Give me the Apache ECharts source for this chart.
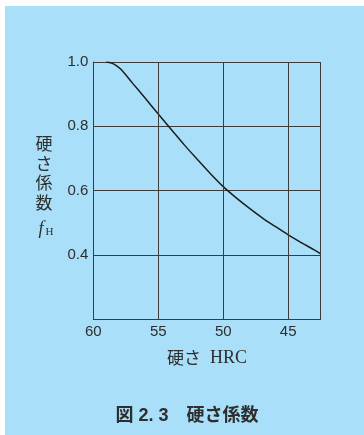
<!DOCTYPE html>
<html>
<head>
<meta charset="utf-8">
<script src="https://cdn.jsdelivr.net/npm/echarts@6/dist/echarts.min.js"></script>
<style>
  html, body { margin: 0; padding: 0; background: #ffffff; }
  #chart { width: 364px; height: 435px; }
</style>
</head>
<body>
<div id="chart"></div>
<script>
// Hardness HRC (x) and hardness factor f_H (y) along the curve
const hrc    = [59.0, 58.6, 58.2, 57.8, 57.0, 56.0, 55.0, 54.0, 53.0, 52.0, 51.0, 50.0, 49.0, 48.0, 47.0, 46.0, 45.0, 44.0, 43.0, 42.5];
const factor = [1.000, 0.997, 0.988, 0.974, 0.935, 0.887, 0.838, 0.790, 0.742, 0.697, 0.653, 0.612, 0.577, 0.545, 0.515, 0.488, 0.462, 0.438, 0.415, 0.403];

// Labelled ticks on each axis
const xTicks = [60, 55, 50, 45];
const yTicks = [1.0, 0.8, 0.6, 0.4];

const ink = '#2e2e2e';
const gridInk = '#3c3c3c';
const sky = '#a9dff8';

const chart = echarts.init(document.getElementById('chart'), null, { renderer: 'canvas' });

const curve = hrc.map((h, i) => [h, factor[i]]);

// Vertical grid lines at labelled HRC values plus the right frame edge
const vLines = xTicks.filter(v => v !== 60).map(v => ({ xAxis: v }));
vLines.push({ xAxis: 42.5 });

chart.setOption({
  animation: false,
  backgroundColor: '#ffffff',
  graphic: [
    {
      type: 'rect', z: -10, silent: true,
      shape: { x: 5, y: 6, width: 359, height: 429 },
      style: { fill: sky }
    },
    {
      type: 'text', silent: true,
      style: {
        text: '硬\nさ\n係\n数',
        x: 44, y: 134,
        textAlign: 'center', textVerticalAlign: 'top',
        font: '17px "Noto Sans CJK JP"',
        lineHeight: 19.5,
        fill: ink
      }
    },
    {
      type: 'text', silent: true,
      style: {
        text: 'f',
        x: 41, y: 229,
        textAlign: 'center', textVerticalAlign: 'middle',
        font: 'italic 18px "Liberation Serif"',
        fill: ink
      }
    },
    {
      type: 'text', silent: true,
      style: {
        text: 'H',
        x: 49.5, y: 232,
        textAlign: 'center', textVerticalAlign: 'middle',
        font: '11px "Liberation Serif"',
        fill: ink
      }
    },
    {
      type: 'text', silent: true,
      style: {
        text: '図 2. 3　硬さ係数',
        x: 187, y: 416,
        textAlign: 'center', textVerticalAlign: 'middle',
        font: 'bold 18px "Liberation Sans", "Noto Sans CJK JP"',
        fill: ink
      }
    }
  ],
  grid: {
    left: 93.3, right: 43.3, top: 62, bottom: 116,
    outerBoundsMode: 'none'
  },
  xAxis: {
    type: 'value',
    inverse: true,
    min: 42.5, max: 60, interval: 2.5,
    axisLine: { show: true, onZero: false, lineStyle: { color: gridInk, width: 1 } },
    axisTick: { show: false },
    splitLine: { show: false },
    axisLabel: {
      margin: 5,
      color: ink,
      fontFamily: 'Liberation Sans',
      fontSize: 15,
      formatter: v => (xTicks.includes(v) ? String(v) : '')
    },
    name: '{a|硬さ}{b|  HRC}',
    nameLocation: 'middle',
    nameGap: 30,
    nameTextStyle: {
      rich: {
        a: { fontFamily: 'Noto Sans CJK JP', fontSize: 17, color: ink },
        b: { fontFamily: 'Liberation Serif', fontSize: 18, color: ink }
      }
    }
  },
  yAxis: {
    type: 'value',
    min: 0.2, max: 1.0, interval: 0.2,
    axisLine: { show: true, onZero: false, lineStyle: { color: gridInk, width: 1 } },
    axisTick: { show: false },
    splitLine: { show: true, lineStyle: { color: gridInk, width: 1 } },
    axisLabel: {
      margin: 5,
      color: ink,
      fontFamily: 'Liberation Sans',
      fontSize: 15,
      formatter: v => {
        const s = v.toFixed(1);
        return yTicks.some(t => t.toFixed(1) === s) ? s : '';
      }
    }
  },
  series: [
    {
      type: 'line',
      data: curve,
      smooth: 0.3,
      showSymbol: false,
      lineStyle: { color: '#1e1e1e', width: 1.5 },
      markLine: {
        silent: true,
        symbol: ['none', 'none'],
        label: { show: false },
        lineStyle: { color: gridInk, width: 1, type: 'solid' },
        data: vLines
      }
    }
  ]
});
</script>
</body>
</html>
